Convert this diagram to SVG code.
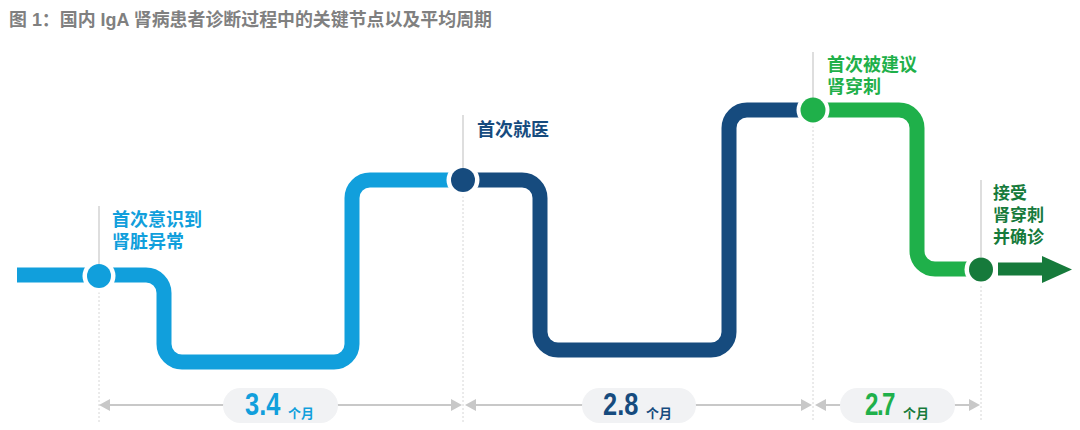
<svg xmlns="http://www.w3.org/2000/svg" width="1080" height="430" viewBox="0 0 1080 430">
  <style>
    .cjk { font-family: "Liberation Sans", "Noto Sans CJK SC", sans-serif; font-weight: bold; }
    .num { font-family: "Liberation Sans", "Noto Sans CJK SC", sans-serif; font-weight: bold; }
    .track { fill: none; stroke-width: 15; stroke-linecap: butt; stroke-linejoin: round; }
    .guide { stroke: #bdbdbd; stroke-width: 1; }
    .dot { stroke: #d6d6d6; stroke-width: 1; stroke-dasharray: 2 2; }
    .gap { fill: #ffffff; }
    .dim { stroke: #c8c8c8; stroke-width: 2; fill: none; }
    .head { fill: #c8c8c8; }
    .pill { fill: #f1f2f4; }
    .blue { fill: #119fdc; }
    .navy { fill: #164b7e; }
    .green { fill: #1fb04a; }
    .dgreen { fill: #167a3b; }
  </style>

  <text id="title" class="cjk" x="9" y="26" font-size="18" fill="#808080" textLength="483" lengthAdjust="spacingAndGlyphs">图 1：国内 IgA 肾病患者诊断过程中的关键节点以及平均周期</text>

  <g id="connectors">
    <line class="dot" x1="99" y1="288" x2="99" y2="422"/>
    <line class="dot" x1="463" y1="192" x2="463" y2="422"/>
    <line class="dot" x1="813" y1="122" x2="813" y2="422"/>
    <line class="dot" x1="981" y1="282" x2="981" y2="422"/>

    <path class="track" stroke="#119fdc" stroke-linecap="round" d="M17 275 H146 A18 18 0 0 1 164 293 V344 A18 18 0 0 0 182 362 H334 A18 18 0 0 0 352 344 V198 A18 18 0 0 1 370 180 H463"/>
    <path class="track" stroke="#164b7e" d="M463 180 H522 A18 18 0 0 1 540 198 V332 A18 18 0 0 0 558 350 H711 A18 18 0 0 0 729 332 V128 A18 18 0 0 1 747 110 H813"/>
    <path class="track" stroke="#1fb04a" d="M813 110 H899 A18 18 0 0 1 917 128 V251 A18 18 0 0 0 935 269 H981"/>
    <rect x="998" y="262.5" width="46" height="13" fill="#167a3b"/>
    <polygon points="1042,256 1072,269.5 1042,283" fill="#167a3b"/>

    <line class="dim" x1="105" y1="405" x2="456" y2="405"/>
    <polygon class="head" points="99,405 110,399 110,411"/>
    <polygon class="head" points="462,405 451,399 451,411"/>
    <line class="dim" x1="471" y1="405" x2="806" y2="405"/>
    <polygon class="head" points="465,405 476,399 476,411"/>
    <polygon class="head" points="812,405 801,399 801,411"/>
    <line class="dim" x1="821" y1="405" x2="974" y2="405"/>
    <polygon class="head" points="815,405 826,399 826,411"/>
    <polygon class="head" points="980,405 969,399 969,411"/>
  </g>

  <g id="node1">
    <circle class="gap" cx="99" cy="276" r="16.5"/>
    <line class="guide" x1="99" y1="206" x2="99" y2="264"/>
    <circle class="blue" cx="99" cy="276" r="12"/>
    <text class="cjk blue" font-size="18"><tspan x="112" y="226">首次意识到</tspan><tspan x="112" y="248">肾脏异常</tspan></text>
  </g>

  <g id="node2">
    <circle class="gap" cx="463" cy="180" r="16.5"/>
    <line class="guide" x1="463" y1="115" x2="463" y2="168"/>
    <circle class="navy" cx="463" cy="180" r="12"/>
    <text class="cjk navy" font-size="18" x="477" y="136">首次就医</text>
  </g>

  <g id="node3">
    <circle class="gap" cx="813" cy="110" r="16.5"/>
    <line class="guide" x1="813" y1="52" x2="813" y2="98"/>
    <circle class="green" cx="813" cy="110" r="12.5"/>
    <text class="cjk green" font-size="18"><tspan x="827" y="71">首次被建议</tspan><tspan x="827" y="93">肾穿刺</tspan></text>
  </g>

  <g id="node4">
    <circle class="gap" cx="981" cy="269.5" r="16.5"/>
    <line class="guide" x1="981" y1="180" x2="981" y2="257"/>
    <circle class="dgreen" cx="981" cy="269.5" r="12"/>
    <text class="cjk dgreen" font-size="17"><tspan x="993" y="199">接受</tspan><tspan x="993" y="221">肾穿刺</tspan><tspan x="993" y="243">并确诊</tspan></text>
  </g>

  <g id="duration1">
    <rect class="pill" x="223" y="388" width="115" height="35" rx="17.5"/>
    <text class="num blue" font-size="31" transform="translate(245 415) scale(0.82 1)">3.4</text>
    <text class="cjk blue" x="288" y="418" font-size="13">个月</text>
  </g>

  <g id="duration2">
    <rect class="pill" x="582" y="388" width="114" height="35" rx="17.5"/>
    <text class="num navy" font-size="31" transform="translate(603 415) scale(0.82 1)">2.8</text>
    <text class="cjk navy" x="646" y="418" font-size="13">个月</text>
  </g>

  <g id="duration3">
    <rect class="pill" x="840" y="388" width="115" height="35" rx="17.5"/>
    <text class="num green" font-size="31" letter-spacing="-2" transform="translate(865 415) scale(0.78 1)">2.7</text>
    <text class="cjk dgreen" x="903" y="418" font-size="13">个月</text>
  </g>
</svg>
